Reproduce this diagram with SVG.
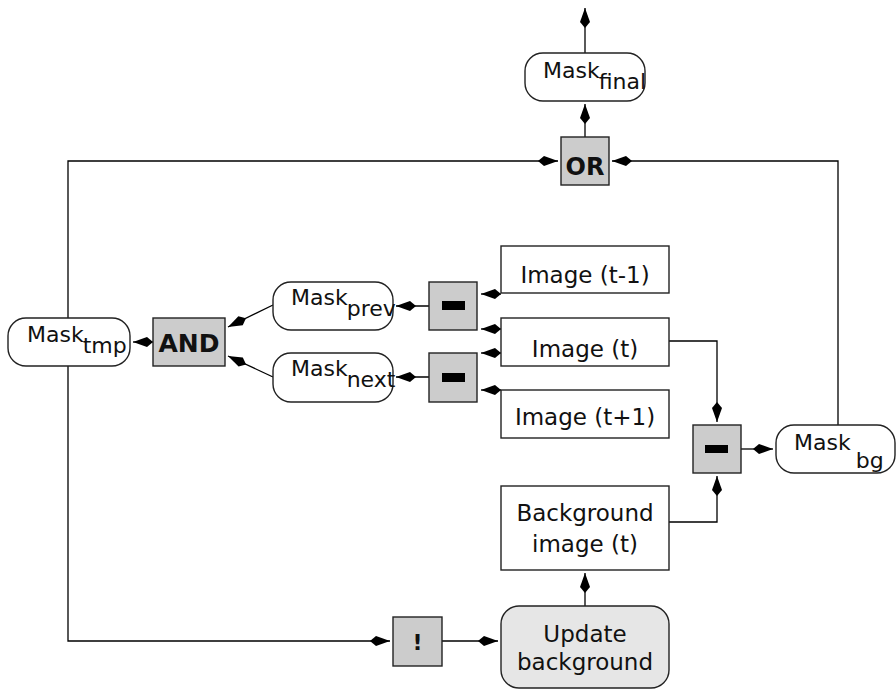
<svg xmlns="http://www.w3.org/2000/svg" width="896" height="690" viewBox="0 0 896 690">
<style>
.box{fill:#fff;stroke:#222;stroke-width:1.4}
.op{fill:#cccccc;stroke:#222;stroke-width:1.4}
.upd{fill:#e6e6e6;stroke:#222;stroke-width:1.4}
.t{font-family:"DejaVu Sans","Liberation Sans",sans-serif;font-size:23px;fill:#111}
.m{font-family:"DejaVu Sans","Liberation Sans",sans-serif;font-size:22px;fill:#111}
.b{font-family:"DejaVu Sans","Liberation Sans",sans-serif;font-weight:bold;fill:#111}
.c{fill:none;stroke:#000;stroke-width:1.3}
.a{fill:none;stroke:#000;stroke-width:1.3;marker-end:url(#ah)}
</style>
<defs>
<marker id="ah" markerUnits="userSpaceOnUse" viewBox="-21 -6 22 12" refX="0" refY="0" markerWidth="22" markerHeight="12" orient="auto">
<path d="M0,0 L-14,-5 L-20,0 L-14,5 Z" fill="#000"/>
</marker>
</defs>
<g id="connectors">
<line class="a" x1="585" y1="53" x2="585" y2="8"/>
<line class="a" x1="585" y1="137" x2="585" y2="104"/>
<polyline class="a" points="68,318 68,161 558,161"/>
<polyline class="a" points="838,425 838,161 612,161"/>
<polyline class="a" points="68,366 68,641 390,641"/>
<line class="a" x1="442" y1="641" x2="498" y2="641"/>
<line class="a" x1="585" y1="606" x2="585" y2="573"/>
<polyline class="a" points="669,522 717,522 717,476"/>
<polyline class="a" points="668,341 717,341 717,422"/>
<line class="a" x1="741" y1="449" x2="773" y2="449"/>
<line class="a" x1="501" y1="294" x2="481" y2="294"/>
<line class="a" x1="501" y1="329" x2="481" y2="329"/>
<line class="a" x1="501" y1="353" x2="481" y2="353"/>
<line class="a" x1="501" y1="390" x2="481" y2="390"/>
<line class="a" x1="429" y1="306" x2="396" y2="306"/>
<line class="a" x1="429" y1="377" x2="396" y2="377"/>
<line class="a" x1="273" y1="305" x2="228" y2="327"/>
<line class="a" x1="273" y1="377" x2="228" y2="356"/>
<line class="a" x1="153" y1="342" x2="133" y2="342"/>
</g>
<g id="mask_final">
<rect class="box" x="525" y="53" width="120" height="48" rx="18"/>
<text class="m" x="543" y="78">Mask<tspan dx="-1" dy="11">final</tspan></text>
</g>
<g id="or">
<rect class="op" x="561" y="137" width="48" height="48"/>
<text class="b" font-size="24" x="585" y="175" text-anchor="middle">OR</text>
</g>
<g id="image_t_minus_1">
<rect class="box" x="501" y="246" width="168" height="47"/>
<text class="t" x="585" y="283" text-anchor="middle">Image (t-1)</text>
</g>
<g id="image_t">
<rect class="box" x="501" y="318" width="168" height="48"/>
<text class="t" x="585" y="357" text-anchor="middle">Image (t)</text>
</g>
<g id="image_t_plus_1">
<rect class="box" x="501" y="390" width="168" height="48"/>
<text class="t" x="585" y="425" text-anchor="middle">Image (t+1)</text>
</g>
<g id="minus_prev">
<rect class="op" x="429" y="282" width="48" height="48"/>
<rect x="442" y="301" width="23" height="9" fill="#000"/>
</g>
<g id="minus_next">
<rect class="op" x="429" y="353" width="48" height="49"/>
<rect x="442" y="373" width="23" height="9" fill="#000"/>
</g>
<g id="mask_prev">
<rect class="box" x="273" y="282" width="120" height="48" rx="18"/>
<text class="m" x="291" y="305">Mask<tspan dx="-1" dy="11">prev</tspan></text>
</g>
<g id="mask_next">
<rect class="box" x="273" y="353" width="120" height="49" rx="18"/>
<text class="m" x="291" y="376">Mask<tspan dx="-1" dy="11">next</tspan></text>
</g>
<g id="and">
<rect class="op" x="153" y="318" width="72" height="48"/>
<text class="b" font-size="25" x="189" y="352" text-anchor="middle">AND</text>
</g>
<g id="mask_tmp">
<rect class="box" x="8" y="318" width="122" height="48" rx="18"/>
<text class="m" x="27" y="342">Mask<tspan dx="-1" dy="11">tmp</tspan></text>
</g>
<g id="minus_bg">
<rect class="op" x="693" y="425" width="48" height="48"/>
<rect x="705" y="445" width="23" height="8" fill="#000"/>
</g>
<g id="mask_bg">
<rect class="box" x="776" y="425" width="119" height="48" rx="18"/>
<text class="m" x="794" y="450">Mask<tspan dx="5" dy="18">bg</tspan></text>
</g>
<g id="background_image">
<rect class="box" x="501" y="486" width="168" height="84"/>
<text class="t" x="585" y="521" text-anchor="middle">Background</text>
<text class="t" x="585" y="552" text-anchor="middle">image (t)</text>
</g>
<g id="not">
<rect class="op" x="393" y="617" width="49" height="49"/>
<text class="b" font-size="22" x="417.5" y="650" text-anchor="middle">!</text>
</g>
<g id="update_background">
<rect class="upd" x="501" y="606" width="168" height="82" rx="18"/>
<text class="t" x="585" y="642" text-anchor="middle">Update</text>
<text class="t" x="585" y="670" text-anchor="middle">background</text>
</g>
</svg>
